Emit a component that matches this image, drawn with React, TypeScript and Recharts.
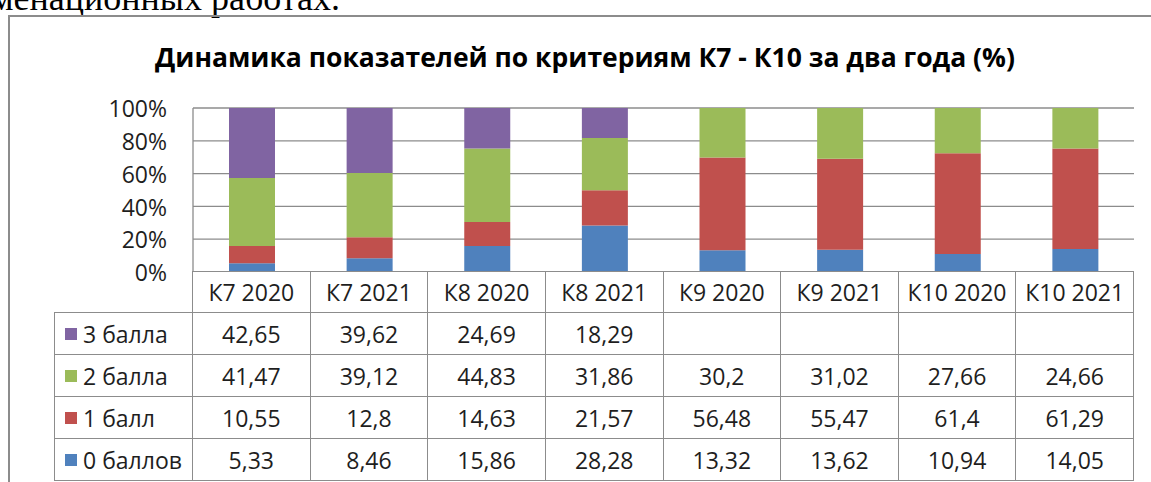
import { Bar, BarChart, CartesianGrid, YAxis } from "recharts"

// Критерии К7–К10, два года, доли по баллам (%)
const CATEGORIES = ["К7 2020", "К7 2021", "К8 2020", "К8 2021", "К9 2020", "К9 2021", "К10 2020", "К10 2021"]
const SCORE_0 = [5.33, 8.46, 15.86, 28.28, 13.32, 13.62, 10.94, 14.05]
const SCORE_1 = [10.55, 12.8, 14.63, 21.57, 56.48, 55.47, 61.4, 61.29]
const SCORE_2 = [41.47, 39.12, 44.83, 31.86, 30.2, 31.02, 27.66, 24.66]
const SCORE_3: (number | null)[] = [42.65, 39.62, 24.69, 18.29, null, null, null, null]
const Y_TICKS = [0, 0.2, 0.4, 0.6, 0.8, 1]

const SERIES = [
  { key: "s0", name: "0 баллов", values: SCORE_0, color: "#4F81BD" },
  { key: "s1", name: "1 балл", values: SCORE_1, color: "#C0504D" },
  { key: "s2", name: "2 балла", values: SCORE_2, color: "#9BBB59" },
  { key: "s3", name: "3 балла", values: SCORE_3, color: "#8064A2" },
]

const data = CATEGORIES.map((name, i) => {
  const row: Record<string, string | number | null> = { name }
  SERIES.forEach((s) => (row[s.key] = s.values[i]))
  return row
})

const FONT = "'Open Sans', 'Noto Sans', sans-serif"
const GRID = "#8c8c8c"
const TEXT = "#1e1e1e"

// геометрия области построения
const PLOT_LEFT = 193
const PLOT_RIGHT = 1134
const PLOT_TOP = 108
const PLOT_BOTTOM = 272
const COL_W = (PLOT_RIGHT - PLOT_LEFT) / CATEGORIES.length
const LEGEND_LEFT = 55
const HEADER_H = 41
const ROW_H = 42

const fmt = (v: number | null) => (v == null ? "" : String(v).replace(".", ","))

function DataTable() {
  const rows = [...SERIES].reverse()
  const cell = (left: number, top: number, width: number, height: number): React.CSSProperties => ({
    position: "absolute",
    left,
    top,
    width,
    height,
    boxSizing: "border-box",
    border: `1px solid ${GRID}`,
    marginLeft: -1,
    marginTop: -1,
    display: "flex",
    alignItems: "center",
    justifyContent: "center",
    fontFamily: FONT,
    fontSize: 23,
    color: TEXT,
    whiteSpace: "nowrap",
    background: "#fff",
  })
  return (
    <>
      {CATEGORIES.map((c, i) => (
        <div key={c} style={cell(PLOT_LEFT + i * COL_W, PLOT_BOTTOM, COL_W + 1, HEADER_H + 1)}>
          {c}
        </div>
      ))}
      {rows.map((s, r) => {
        const top = PLOT_BOTTOM + HEADER_H + r * ROW_H
        return (
          <div key={s.key}>
            <div
              style={{
                ...cell(LEGEND_LEFT, top, PLOT_LEFT - LEGEND_LEFT + 1, ROW_H + 1),
                justifyContent: "flex-start",
                paddingLeft: 10,
              }}
            >
              <span style={{ width: 12, height: 12, background: s.color, marginRight: 6, flex: "none" }} />
              {s.name}
            </div>
            {s.values.map((v, i) => (
              <div key={i} style={cell(PLOT_LEFT + i * COL_W, top, COL_W + 1, ROW_H + 1)}>
                {fmt(v)}
              </div>
            ))}
          </div>
        )
      })}
    </>
  )
}

export default function App() {
  return (
    <div
      style={{
        position: "absolute",
        left: 0,
        top: 0,
        width: 1151,
        height: 482,
        overflow: "hidden",
        background: "#fff",
      }}
    >
      {/* хвост строки документа над диаграммой */}
      <div
        style={{
          position: "absolute",
          right: 1151 - 340,
          top: -20,
          fontFamily: "'Liberation Serif', 'Times New Roman', serif",
          fontSize: 36,
          lineHeight: 1,
          whiteSpace: "nowrap",
          color: "#000",
        }}
      >
        экзаменационных работах.
      </div>

      {/* рамка диаграммы */}
      <div
        style={{
          position: "absolute",
          left: 8,
          top: 15,
          width: 1200,
          height: 500,
          borderLeft: `2px solid ${GRID}`,
          borderTop: `2px solid ${GRID}`,
        }}
      />

      <div
        style={{
          position: "absolute",
          left: 0,
          width: 1170,
          top: 39,
          textAlign: "center",
          fontFamily: FONT,
          fontWeight: 700,
          fontSize: 26.5,
          color: "#000",
          whiteSpace: "nowrap",
        }}
      >
        Динамика показателей по критериям К7 - К10 за два года (%)
      </div>

      <div style={{ position: "absolute", left: 0, top: 0 }}>
        <BarChart
          width={1151}
          height={PLOT_BOTTOM + 20}
          data={data}
          stackOffset="expand"
          margin={{ top: PLOT_TOP, right: 1151 - PLOT_RIGHT, bottom: 20, left: 0 }}
        >
          <CartesianGrid vertical={false} stroke={GRID} strokeWidth={1.3} />
          <YAxis
            width={PLOT_LEFT}
            domain={[0, 1]}
            ticks={Y_TICKS}
            tickSize={0}
            tickMargin={26}
            tickLine={false}
            axisLine={{ stroke: GRID, strokeWidth: 1.3 }}
            tick={{ fontFamily: FONT, fontSize: 23, fill: TEXT, dy: 1 }}
            tickFormatter={(v: number) => `${Math.round(v * 100)}%`}
          />
          {SERIES.map((s) => (
            <Bar
              key={s.key}
              dataKey={s.key}
              name={s.name}
              stackId="a"
              fill={s.color}
              barSize={46}
              isAnimationActive={false}
            />
          ))}
        </BarChart>
      </div>

      <DataTable />
    </div>
  )
}
